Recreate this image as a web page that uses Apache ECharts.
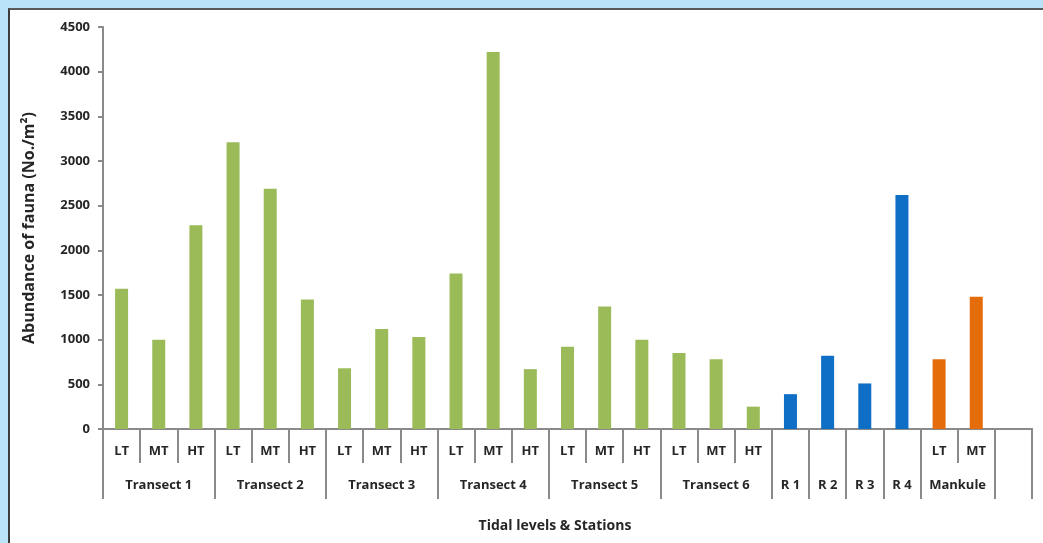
<!DOCTYPE html>
<html>
<head>
<meta charset="utf-8">
<script src="https://cdn.jsdelivr.net/npm/echarts@6/dist/echarts.min.js"></script>
<style>
html,body{margin:0;padding:0;width:1043px;height:543px;overflow:hidden;background:#b8e3f8;}
#frame{position:absolute;left:8px;top:8px;right:0;bottom:0;background:#fff;border-left:2px solid #3c3c3c;border-top:2px solid #5a5a5a;}
#chart{position:absolute;left:0;top:0;width:1043px;height:543px;}
</style>
</head>
<body>
<div id="frame"></div>
<div id="chart"></div>
<script>
// Tidal level per category (row 1 labels)
const levels = ['LT','MT','HT','LT','MT','HT','LT','MT','HT','LT','MT','HT','LT','MT','HT','LT','MT','HT','','','','','LT','MT',''];
// Station per category (row 2 labels)
const stations = ['Transect 1','Transect 1','Transect 1','Transect 2','Transect 2','Transect 2','Transect 3','Transect 3','Transect 3','Transect 4','Transect 4','Transect 4','Transect 5','Transect 5','Transect 5','Transect 6','Transect 6','Transect 6','R 1','R 2','R 3','R 4','Mankule','Mankule',''];
// Abundance of fauna (No./m2)
const abundance = [1570,1000,2280,3210,2690,1450,680,1120,1030,1740,4220,670,920,1370,1000,850,780,250,390,820,510,2620,780,1480,'-'];
const yTicks = [0,500,1000,1500,2000,2500,3000,3500,4000,4500];

const font = '"Open Sans", Lato, sans-serif';
function barColor(st){
  if (st.indexOf('Transect') === 0) return '#9bbb59';
  if (st.indexOf('R ') === 0) return '#0f6fc6';
  return '#e46c0a';
}
const cats = levels.map((l,i)=> 'c'+i);
const groupStart = {}, groupMid = {};
let i0 = 0;
for (let i=1;i<=stations.length;i++){
  if (i===stations.length || stations[i]!==stations[i0]){
    groupStart[i0] = true;
    groupMid[Math.floor((i0+i-1)/2)] = (i-i0)%2===0 ? 'even' : 'odd';
    i0 = i;
  }
}
const chart = echarts.init(document.getElementById('chart'), null, {renderer:'canvas'});
const axisGray = '#8a8a8a';
const txt = '#262626';
chart.setOption({
  backgroundColor:'transparent',
  animation:false,
  title:{text:'Tidal levels & Stations',left:550,top:514,textAlign:'center',
    textStyle:{fontFamily:font,fontWeight:'bold',fontSize:14,color:txt}},
  grid:{left:103,right:11,top:27,bottom:114,containLabel:false},
  xAxis:[{
    type:'category',data:cats,position:'bottom',
    axisLine:{lineStyle:{color:axisGray,width:2}},
    axisTick:{show:true,length:34,interval:0,lineStyle:{color:axisGray,width:2}},
    axisLabel:{interval:0,margin:16,fontFamily:font,fontWeight:'bold',fontSize:13,color:txt,
      formatter:(v,i)=>levels[i]}
  },{
    type:'category',data:cats,position:'bottom',offset:0,
    axisLine:{lineStyle:{color:axisGray,width:2}},
    axisTick:{show:true,length:70,interval:(i)=>!!groupStart[i],lineStyle:{color:axisGray,width:2}},
    axisLabel:{margin:50,fontFamily:font,fontWeight:'bold',fontSize:13,color:txt,
      interval:(i)=>groupMid[i]!==undefined,
      formatter:(v,i)=> groupMid[i]==='even' ? '{s|'+stations[i]+'}' : stations[i],
      rich:{s:{padding:[0,0,0,37],fontFamily:font,fontWeight:'bold',fontSize:13,color:txt}}}
  }],
  yAxis:{
    type:'value',min:yTicks[0],max:yTicks[yTicks.length-1],interval:500,
    name:'Abundance of fauna (No./m²)',nameLocation:'middle',nameGap:66,
    nameTextStyle:{fontFamily:font,fontWeight:'bold',fontSize:16,color:txt},
    axisLine:{show:true,lineStyle:{color:axisGray,width:2}},
    axisTick:{show:true,length:5,lineStyle:{color:axisGray,width:2}},
    splitLine:{show:false},
    axisLabel:{margin:13,fontFamily:font,fontWeight:'bold',fontSize:13,color:txt,
      formatter:(v)=>String(v)}
  },
  series:[{
    type:'bar',xAxisIndex:0,barWidth:13,
    data:abundance.map((v,i)=>({value:v,itemStyle:{color:barColor(stations[i])}}))
  }]
});
</script>
</body>
</html>
